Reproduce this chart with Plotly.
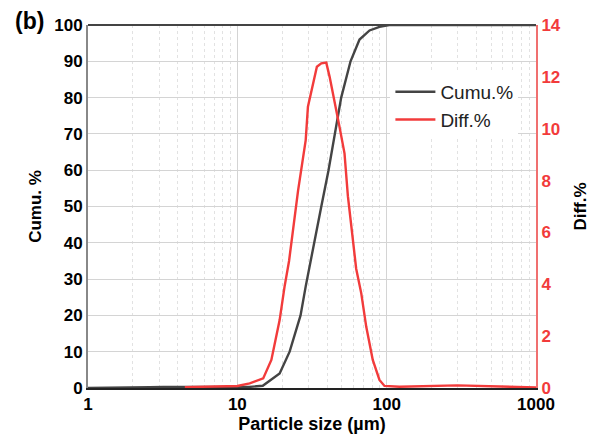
import plotly.graph_objects as go

cumu_size = [1, 2, 2.6, 3.2, 12, 14.8, 19.2, 22.4, 26.5, 28.7, 32.9, 36.5, 40.8, 44.8, 49.6, 57.3, 65.8, 76.8, 89.5, 104, 1000]
cumu_val = [0, 0, 0.2, 0.3, 0.3, 0.6, 4, 10, 20, 28, 40, 50, 60, 70, 80, 90, 96, 98.5, 99.5, 100, 100]

diff_size = [4.45, 10, 12.1, 14.9, 16.9, 19.2, 20.7, 22.2, 25.5, 28.7, 29.7, 32.1, 34.1, 36.5, 39.4,
             41.5, 44.8, 48.3, 52.2, 55.0, 59.4, 62.5, 67.6, 73.0, 80.7, 89.5, 96.7, 122, 297, 1000]
diff_val = [0.03, 0.08, 0.18, 0.37, 1.08, 2.62, 3.9, 4.9, 7.6, 9.56, 10.85, 11.75, 12.39, 12.52, 12.55,
            12.0, 11.1, 10.08, 9.05, 7.4, 5.71, 4.6, 3.65, 2.36, 1.08, 0.31, 0.08, 0.05, 0.1, 0.02]

x_ticks = [1, 10, 100, 1000]
y1_ticks = list(range(0, 101, 10))
y2_ticks = list(range(0, 15, 2))

RED = "#f23b3b"
DARK = "#444444"
FONT = "Liberation Sans"

fig = go.Figure()
fig.add_trace(go.Scatter(x=cumu_size, y=cumu_val, mode="lines", name="Cumu.%",
                         line=dict(color=DARK, width=2.4), yaxis="y"))
fig.add_trace(go.Scatter(x=diff_size, y=diff_val, mode="lines", name="Diff.%",
                         line=dict(color=RED, width=2.4), yaxis="y2"))

fig.update_layout(
    width=592, height=433,
    margin=dict(l=80, r=64, t=17, b=53, autoexpand=False),
    paper_bgcolor="white", plot_bgcolor="white",
    font=dict(family=FONT, size=16, color="black"),
    showlegend=True,
    legend=dict(x=0.675, y=0.868, xanchor="left", yanchor="top", bgcolor="white",
                font=dict(family=FONT, size=19, color="#222222"), tracegroupgap=0,
                itemwidth=40),
    xaxis=dict(type="log", range=[0, 3], tickvals=x_ticks, ticktext=[str(v) for v in x_ticks],
               tickfont=dict(family=FONT, size=17, color="black", weight="bold"),
               title=dict(text="<b>Particle size (µm)</b>", font=dict(family=FONT, size=18), standoff=4),
               showgrid=True, gridcolor="#d4d4d4", gridwidth=1, automargin=False,
               minor=dict(showgrid=True, gridcolor="#e2e2e2", griddash="dot", gridwidth=1,
                          dtick="D1", ticks=""),
               showline=True, linecolor="#222222", linewidth=2, mirror=False,
               ticks="", zeroline=False),
    yaxis=dict(range=[0, 100], tickvals=y1_ticks, automargin=False,
               tickfont=dict(family=FONT, size=17, color="black", weight="bold"),
               title=dict(text="<b>Cumu. %</b>", font=dict(family=FONT, size=17), standoff=8),
               showgrid=True, gridcolor="#d4d4d4", gridwidth=1,
               showline=True, linecolor="#888888", linewidth=2, ticks="", zeroline=False),
    yaxis2=dict(range=[0, 14], tickvals=y2_ticks, overlaying="y", side="right", automargin=False,
                tickfont=dict(family=FONT, size=17, color=RED, weight="bold"),
                title=dict(text="<b>Diff.%</b>", font=dict(family=FONT, size=17, color="black"), standoff=14),
                showgrid=False, showline=True, linecolor="#f07070", linewidth=2, ticks="", zeroline=False),
    shapes=[dict(type="line", xref="paper", yref="paper", x0=0, x1=1, y0=1, y1=1,
                 line=dict(color="#444444", width=2))],
    annotations=[dict(text="<b>(b)</b>", xref="paper", yref="paper", x=-0.168, y=1.01,
                      xanchor="left", yanchor="middle", showarrow=False,
                      font=dict(family=FONT, size=23, color="black"))],
)

fig.write_html("out.html")
